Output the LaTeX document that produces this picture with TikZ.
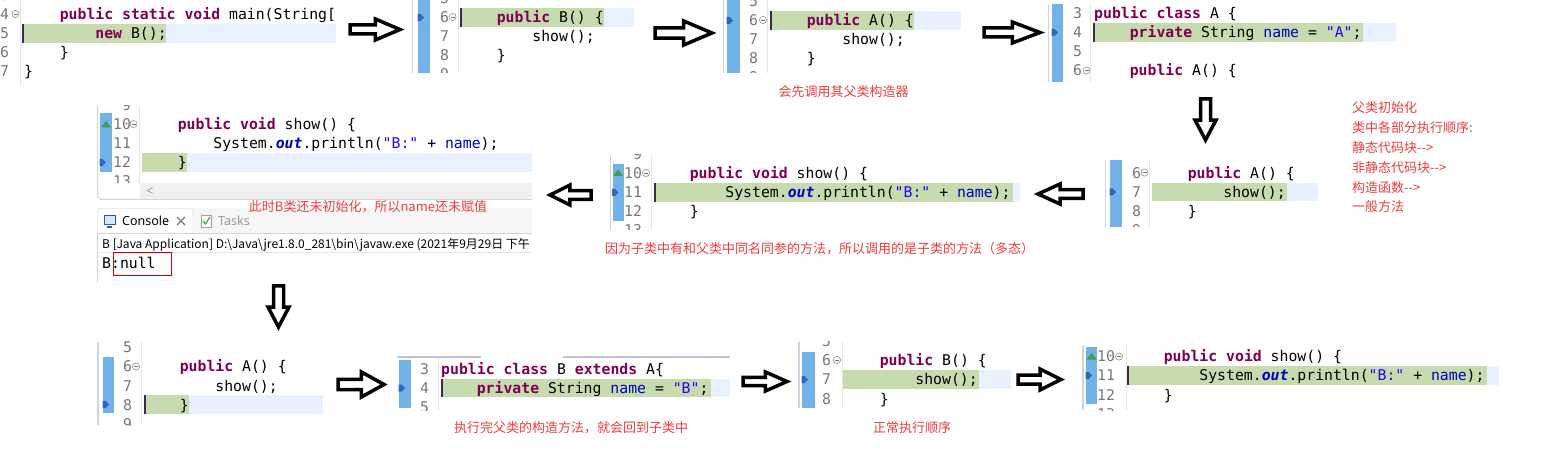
\documentclass[tikz,border=0pt]{standalone}
\usepackage{fontspec}
\setmonofont{DejaVu Sans Mono}
\newfontfamily\cjk{Noto Sans CJK SC}
\newfontfamily\uisans{Noto Sans}
\definecolor{kwc}{RGB}{127,0,85}
\definecolor{strc}{RGB}{42,0,255}
\definecolor{fldc}{RGB}{0,0,192}
\definecolor{lnc}{RGB}{120,120,120}
\definecolor{dbgc}{RGB}{198,219,174}
\definecolor{curc}{RGB}{232,242,254}
\definecolor{barc}{RGB}{115,178,232}
\definecolor{capc}{RGB}{240,60,60}
\definecolor{bordc}{RGB}{205,212,225}
\definecolor{divc}{RGB}{230,230,230}
\definecolor{markc}{RGB}{45,105,185}
\definecolor{darkbarc}{RGB}{60,40,80}
\definecolor{ovc}{RGB}{60,160,70}
\definecolor{scrlc}{RGB}{240,240,240}
\definecolor{tabbgc}{RGB}{246,246,246}
\definecolor{tabbdc}{RGB}{212,212,212}
\definecolor{tabtxc}{RGB}{150,150,150}
\definecolor{tablc}{RGB}{185,198,222}
\newcommand\codef{\ttfamily\fontsize{14.8bp}{18bp}\selectfont\frenchspacing}
\newcommand\capf{\cjk\fontsize{13bp}{16bp}\selectfont}
\newcommand\ckw[1]{\textbf{\color{kwc}#1}}
\newcommand\cst[1]{{\color{strc}#1}}
\newcommand\cfd[1]{{\color{fldc}#1}}
\newcommand\csf[1]{{\color{fldc}\bfseries\itshape #1}}
\newcommand\foldic[2]{\draw[draw=lnc!80, line width=0.6bp, fill=white] (#1,#2) circle [radius=3.6]; \draw[lnc, line width=0.9bp] ({#1-2},#2) -- ({#1+2},#2);}
\newcommand\dbgmk[2]{\fill[markc] (#1,{#2-3.5}) -- ({#1+3},{#2-3.5}) -- ({#1+6.5},#2) -- ({#1+3},{#2+3.5}) -- (#1,{#2+3.5}) -- cycle;}
\newcommand\ovmk[2]{\fill[ovc] ({#1-5},{#2+3}) -- ({#1+5},{#2+3}) -- (#1,{#2-3.5}) -- cycle;}
\newcommand\blkH[4]{%
 \pgfmathsetmacro\bkS{(#2>#1)?1:-1}%
 \pgfmathsetmacro\bkYc{(#3+#4)/2}%
 \pgfmathsetmacro\bkSh{0.18*(#4-#3)}%
 \pgfmathsetmacro\bkXa{#1+2*\bkS}%
 \pgfmathsetmacro\bkXh{#1+0.48*(#2-#1)}%
 \pgfmathsetmacro\bkXt{#2-5*\bkS}%
 \draw[barrow] (\bkXa,{\bkYc-\bkSh}) -- (\bkXh,{\bkYc-\bkSh}) -- (\bkXh,{#3+2}) -- (\bkXt,\bkYc) -- (\bkXh,{#4-2}) -- (\bkXh,{\bkYc+\bkSh}) -- (\bkXa,{\bkYc+\bkSh}) -- cycle;}
\newcommand\blkV[4]{%
 \pgfmathsetmacro\bkS{(#4>#3)?1:-1}%
 \pgfmathsetmacro\bkXc{(#1+#2)/2}%
 \pgfmathsetmacro\bkSh{0.2*(#2-#1)}%
 \pgfmathsetmacro\bkYa{#3+2*\bkS}%
 \pgfmathsetmacro\bkYh{#3+0.48*(#4-#3)}%
 \pgfmathsetmacro\bkYt{#4-5*\bkS}%
 \draw[barrow] ({\bkXc-\bkSh},\bkYa) -- ({\bkXc-\bkSh},\bkYh) -- ({#1+2},\bkYh) -- (\bkXc,\bkYt) -- ({#2-2},\bkYh) -- ({\bkXc+\bkSh},\bkYh) -- ({\bkXc+\bkSh},\bkYa) -- cycle;}
\tikzset{
 code/.style={anchor=base west, inner sep=0pt, font=\codef},
 lnum/.style={anchor=base west, inner sep=0pt, font=\codef, text=lnc},
 capnote/.style={inner sep=0pt, font=\capf, text=capc},
 capline/.style={anchor=west, inner sep=0pt, font=\capf, text=capc},
 curl/.style={fill=curc},
 dbgl/.style={fill=dbgc},
 dbar/.style={draw=darkbarc, line width=1.5bp},
 gbar/.style={fill=barc},
 bord/.style={draw=bordc, line width=1.2bp},
 divl/.style={draw=divc, line width=0.8bp},
 barrow/.style={draw=black, line width=3.5bp, fill=white, line join=miter},
 uitext/.style={anchor=base west, inner sep=0pt, font=\uisans\fontsize{12.5bp}{15bp}\selectfont},
}
\begin{document}
\begin{tikzpicture}[x=1bp,y=-1bp]
\useasboundingbox (0,0) rectangle (1568,458);
\fill[white] (0,0) rectangle (1568,458);
% ---------- panel 1
\begin{scope}
\clip (0,0) rectangle (341,86);
\fill[curl] (22,24) rectangle (336,43);
\fill[dbgl] (22,24) rectangle (166,43);
\draw[dbar] (22.75,24) -- (22.75,43);
\draw[divl] (20,0) -- (20,86);
\foreach \n/\y in {3/1,4/20,5/39,6/58,7/77} \node[lnum] (pa\n) at (0,\y) {\n};
\foldic{15.5}{14}
\node[code] (pa4c) at (59.6,20) {\ckw{public} \ckw{static} \ckw{void} main(String[};
\node[code] (pa5c) at (95.2,39) {\ckw{new} B();};
\node[code] (pa6c) at (59.6,58) {\}};
\node[code] (pa7c) at (24,77) {\}};
\end{scope}
\blkH{348}{405}{17}{42}
% ---------- panel 2
\begin{scope}
\clip (411,0) rectangle (641,73);
\draw[bord] (412.5,0) -- (412.5,73);
\fill[gbar] (418,0) rectangle (430,73);
\dbgmk{417.5}{17.5}
\fill[curl] (460,8) rectangle (634,27);
\fill[dbgl] (460,8) rectangle (604,27);
\draw[dbar] (460.75,8) -- (460.75,27);
\draw[divl] (458,0) -- (458,73);
\foreach \n/\y in {5/4,6/23,7/42,8/61,9/80} \node[lnum] (pb\n) at (440,\y) {\n};
\foldic{452.5}{17}
\node[code] (pb6c) at (496.6,23) {\ckw{public} B() \{};
\node[code] (pb7c) at (532.2,42) {show();};
\node[code] (pb8c) at (496.6,61) {\}};
\end{scope}
\blkH{653}{717}{19}{47}
% ---------- panel 3
\begin{scope}
\clip (722,0) rectangle (966,73);
\draw[bord] (723.5,0) -- (723.5,73);
\fill[gbar] (727,0) rectangle (740,73);
\dbgmk{726.5}{20.5}
\fill[curl] (770,11) rectangle (961,30);
\fill[dbgl] (770,11) rectangle (914,30);
\draw[dbar] (770.75,11) -- (770.75,30);
\draw[divl] (767.5,0) -- (767.5,73);
\foreach \n/\y in {5/7,6/26,7/45,8/64,9/83} \node[lnum] (pc\n) at (749,\y) {\n};
\foldic{763}{20}
\node[code] (pc6c) at (806.6,26) {\ckw{public} A() \{};
\node[code] (pc7c) at (842.2,45) {show();};
\node[code] (pc8c) at (806.6,64) {\}};
\end{scope}
\node[capnote] (capA) at (843.5,92) {会先调用其父类构造器};
\blkH{982}{1045}{20}{45}
% ---------- panel 4
\begin{scope}
\clip (1047,4) rectangle (1396,82);
\draw[bord] (1048.5,4) -- (1048.5,82);
\fill[gbar] (1052,4) rectangle (1063,82);
\dbgmk{1051.5}{32.5}
\fill[curl] (1093,23) rectangle (1396,42);
\fill[dbgl] (1093,23) rectangle (1363,42);
\draw[dbar] (1093.75,23) -- (1093.75,42);
\draw[divl] (1090.5,4) -- (1090.5,82);
\foreach \n/\y in {3/19,4/38,5/57,6/76} \node[lnum] (pd\n) at (1073,\y) {\n};
\foldic{1086.5}{70.5}
\node[code] (pd3c) at (1094,19) {\ckw{public} \ckw{class} A \{};
\node[code] (pd4c) at (1129.6,38) {\ckw{private} String \cfd{name} = \cst{"A"};};
\node[code] (pd6c) at (1129.6,76) {\ckw{public} A() \{};
\end{scope}
\blkV{1193}{1218}{97}{145}
% ---------- panel 5
\begin{scope}
\clip (1104,160) rectangle (1320,227);
\draw[bord] (1105.5,160) -- (1105.5,227);
\fill[gbar] (1110,160) rectangle (1122,227);
\dbgmk{1109.5}{192}
\fill[curl] (1152,183) rectangle (1318,201);
\fill[dbgl] (1152,183) rectangle (1287,201);
\draw[divl] (1149,160) -- (1149,227);
\foreach \n/\y in {6/178.5,7/197.5,8/216.5,9/235.5} \node[lnum] (pe\n) at (1132,\y) {\n};
\foldic{1144.5}{172.5}
\node[code] (pe6c) at (1187.6,178.5) {\ckw{public} A() \{};
\node[code] (pe7c) at (1223.2,197.5) {show();};
\node[code] (pe8c) at (1187.6,216.5) {\}};
\end{scope}
% ---------- red notes
\node[capline] (nt1) at (1352,108) {父类初始化};
\node[capline] (nt2) at (1352,128) {类中各部分执行顺序:};
\node[capline] (nt3) at (1352,148) {静态代码块-\kern0pt-\kern0pt>};
\node[capline] (nt4) at (1352,168) {非静态代码块-\kern0pt-\kern0pt>};
\node[capline] (nt5) at (1352,188) {构造函数-\kern0pt-\kern0pt>};
\node[capline] (nt6) at (1352,207) {一般方法};
\blkH{1085}{1033}{182}{206}
% ---------- panel 6
\begin{scope}
\clip (609,155) rectangle (1022,230);
\draw[bord] (610.5,155) -- (610.5,230);
\fill[gbar] (612.5,164) rectangle (624,221);
\ovmk{618}{173}
\dbgmk{612}{192.5}
\fill[curl] (654,183) rectangle (1020,202);
\fill[dbgl] (654,183) rectangle (1013,202);
\draw[dbar] (654.75,183) -- (654.75,202);
\draw[divl] (651,155) -- (651,230);
\node[lnum] (pf9) at (632.9,160) {9};
\foreach \n/\y in {10/179,11/198,12/217,13/236} \node[lnum] (pf\n) at (624,\y) {\n};
\foldic{646}{173}
\node[code] (pf10c) at (689.6,179) {\ckw{public} \ckw{void} show() \{};
\node[code] (pf11c) at (725.2,198) {System.\csf{out}.println(\cst{"B:"} + \cfd{name});};
\node[code] (pf12c) at (689.6,217) {\}};
\end{scope}
\node[capnote] (capB) at (819.5,249) {因为子类中有和父类中同名同参的方法，所以调用的是子类的方法（多态）};
\blkH{593}{545}{183}{207}
% ---------- panel 7 (editor + console)
\draw[draw=tabbdc, line width=1bp, rounded corners=4] (97.5,106) -- (97.5,199.5) -- (532,199.5);
\begin{scope}
\clip (98.5,106) rectangle (532,183);
\fill[gbar] (100,113) rectangle (112,172);
\ovmk{106}{124.5}
\dbgmk{99.5}{162.5}
\fill[curl] (142,153) rectangle (532,172);
\fill[dbgl] (142,153) rectangle (187,172);
\draw[divl] (139.5,106) -- (139.5,183);
\node[lnum] (pg9) at (121.9,111) {9};
\foreach \n/\y in {10/130,11/149,12/168,13/187} \node[lnum] (pg\n) at (113,\y) {\n};
\foldic{133.5}{124}
\node[code] (pg10c) at (177.6,130) {\ckw{public} \ckw{void} show() \{};
\node[code] (pg11c) at (213.2,149) {System.\csf{out}.println(\cst{"B:"} + \cfd{name});};
\node[code] (pg12c) at (177.6,168) {\}};
\end{scope}
\fill[scrlc] (140,183) rectangle (532,199);
\node[uitext, text=tabtxc] (scl) at (146,196) {<};
\fill[tabbgc] (98,208) rectangle (532,233);
\draw[draw=tabbdc, fill=white, rounded corners=3] (97.5,233.5) -- (97.5,208.5) -- (193,208.5) -- (193,233.5);
\draw[draw=tabbdc] (97,233.5) -- (532,233.5);
\draw[draw=divc] (97,252.5) -- (532,252.5);
\draw[draw=tabbdc] (97.5,233.5) -- (97.5,282);
\draw[draw={rgb,255:red,50;green,90;blue,150}, fill={rgb,255:red,215;green,230;blue,245}, line width=1bp] (104,215.5) rectangle (115,224.5);
\draw[draw={rgb,255:red,50;green,90;blue,150}, line width=1.2bp] (107,227) -- (112,227);
\node[uitext] (cons) at (122,226) {Console};
\draw[draw=lnc, line width=1.1bp] (177,217) -- (185,225) (177,225) -- (185,217);
\draw[draw=lnc!70, fill=white, line width=0.8bp] (201,215.5) rectangle (211,227.5);
\draw[draw=ovc, line width=1.1bp] (203,221) -- (205.5,224) -- (210,217);
\node[uitext, text=tabtxc] (tasks) at (218,226) {Tasks};
\begin{scope}
\clip (98,234) rectangle (532,285);
\node[anchor=base west, inner sep=0pt, font=\cjk\fontsize{12bp}{14bp}\selectfont] (path) at (102,248.5) {B [Java Application] D:\textbackslash Java\textbackslash jre1.8.0\_281\textbackslash bin\textbackslash javaw.exe (2021年9月29日 下午};
\end{scope}
\node[code] (outl) at (102,269) {B:null};
\draw[draw=red!85!black, line width=1bp] (113.5,252.5) rectangle (171,276);
\node[capnote] (capC) at (368,207) {此时B类还未初始化，所以name还未赋值};
\blkV{266}{291}{284}{332}
% ---------- panel 8
\begin{scope}
\clip (97,342) rectangle (325,425);
\draw[bord] (98,342) -- (98,425);
\fill[gbar] (103,357) rectangle (114,413);
\dbgmk{102.5}{404.5}
\fill[curl] (144,395) rectangle (323,414);
\fill[dbgl] (144,395) rectangle (189,414);
\draw[dbar] (144.75,395) -- (144.75,414);
\draw[divl] (141,342) -- (141,425);
\foreach \n/\y in {5/353,6/372,7/391,8/410,9/429} \node[lnum] (ph\n) at (123,\y) {\n};
\foldic{136}{366.5}
\node[code] (ph6c) at (179.6,372) {\ckw{public} A() \{};
\node[code] (ph7c) at (215.2,391) {show();};
\node[code] (ph8c) at (179.6,410) {\}};
\end{scope}
\blkH{336}{389}{370}{399}
% ---------- panel 9
\draw[draw=tablc, line width=2bp] (397,357) -- (481,357);
\draw[draw=tablc, line width=2bp] (563,357) -- (730,357);
\begin{scope}
\clip (397,358) rectangle (732,410);
\fill[gbar] (399,360) rectangle (411,408);
\dbgmk{398.5}{388}
\fill[curl] (441,379) rectangle (730,397);
\fill[dbgl] (441,379) rectangle (711,397);
\draw[dbar] (441.75,379) -- (441.75,397);
\draw[divl] (438,358) -- (438,410);
\foreach \n/\y in {3/374.5,4/393.5,5/412.5} \node[lnum] (pi\n) at (420,\y) {\n};
\node[code] (pi3c) at (441,374.5) {\ckw{public} \ckw{class} B \ckw{extends} A\{};
\node[code] (pi4c) at (476.6,393.5) {\ckw{private} String \cfd{name} = \cst{"B"};};
\end{scope}
\node[capnote] (capD) at (571,428) {执行完父类的构造方法，就会回到子类中};
\blkH{741}{792}{370}{393}
% ---------- panel 10
\begin{scope}
\clip (798,342) rectangle (1012,408);
\draw[bord] (799,342) -- (799,408);
\fill[gbar] (802,352) rectangle (815,408);
\dbgmk{801.5}{379.5}
\fill[curl] (843,370) rectangle (1011,389);
\fill[dbgl] (843,370) rectangle (979,389);
\draw[divl] (842,342) -- (842,408);
\foreach \n/\y in {5/347,6/366,7/385,8/404} \node[lnum] (pj\n) at (822,\y) {\n};
\foldic{837}{360}
\node[code] (pj6c) at (879.6,366) {\ckw{public} B() \{};
\node[code] (pj7c) at (915.2,385) {show();};
\node[code] (pj8c) at (879.6,404) {\}};
\end{scope}
\node[capnote] (capE) at (912,428) {正常执行顺序};
\blkH{1016}{1066}{367}{392}
% ---------- panel 11
\begin{scope}
\clip (1082,345) rectangle (1502,410);
\draw[bord] (1083,345) -- (1083,410);
\fill[gbar] (1086,347) rectangle (1097,404);
\ovmk{1091.5}{356.5}
\dbgmk{1085.5}{375.5}
\fill[curl] (1127,366) rectangle (1499,385);
\fill[dbgl] (1127,366) rectangle (1487,385);
\draw[dbar] (1127.75,366) -- (1127.75,385);
\draw[divl] (1126,345) -- (1126,410);
\foreach \n/\y in {10/362,11/381,12/400,13/419} \node[lnum] (pk\n) at (1097,\y) {\n};
\foldic{1119}{356.5}
\node[code] (pk10c) at (1163.6,362) {\ckw{public} \ckw{void} show() \{};
\node[code] (pk11c) at (1199.2,381) {System.\csf{out}.println(\cst{"B:"} + \cfd{name});};
\node[code] (pk12c) at (1163.6,400) {\}};
\end{scope}
\end{tikzpicture}
\end{document}
